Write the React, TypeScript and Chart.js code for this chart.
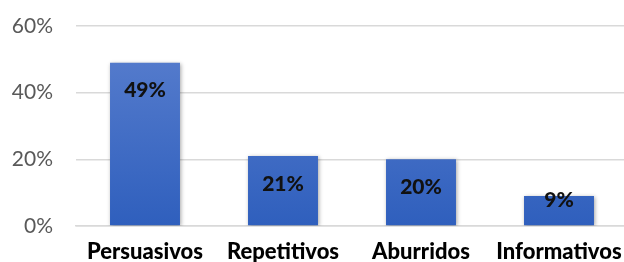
import React, { useEffect, useRef } from "react";
import { Chart, registerables } from "chart.js";

Chart.register(...registerables);

const categories = ["Persuasivos", "Repetitivos", "Aburridos", "Informativos"];
const values = [49, 21, 20, 9];
const valueLabels = ["49%", "21%", "20%", "9%"];
const yTicks = [0, 20, 40, 60];

const labelPlugin = {
  id: "barLabels",
  afterDatasetsDraw(chart: any) {
    const ctx = chart.ctx;
    const meta = chart.getDatasetMeta(0);
    ctx.save();
    ctx.font = "900 21px Lato";
    ctx.fillStyle = "#111111";
    ctx.textAlign = "center";
    ctx.textBaseline = "middle";
    meta.data.forEach((bar: any, i: number) => {
      const h = bar.base - bar.y;
      const y = h >= 56 ? bar.y + 28 : bar.y + 4;
      ctx.fillText(valueLabels[i], bar.x, y);
    });
    ctx.restore();
  },
};

const shadowPlugin = {
  id: "barShadow",
  beforeDatasetsDraw(chart: any) {
    const ctx = chart.ctx;
    ctx.save();
    ctx.shadowColor = "rgba(0,0,0,0.35)";
    ctx.shadowBlur = 4;
    ctx.shadowOffsetX = 1;
    ctx.shadowOffsetY = 1;
  },
  afterDatasetsDraw(chart: any) {
    chart.ctx.restore();
  },
};

const PLOT_TOP = 26;
const PLOT_RIGHT = 628;
const fixAreaPlugin = {
  id: "fixArea",
  afterLayout(chart: any) {
    const y = chart.scales.y;
    const bottom = y.bottom;
    y.top = PLOT_TOP;
    y.height = bottom - PLOT_TOP;
    y.configure();
    const x = chart.scales.x;
    x.right = PLOT_RIGHT;
    x.width = PLOT_RIGHT - x.left;
    x.configure();
    chart.chartArea.top = PLOT_TOP;
    chart.chartArea.height = chart.chartArea.bottom - PLOT_TOP;
    chart.chartArea.right = PLOT_RIGHT;
    chart.chartArea.width = PLOT_RIGHT - chart.chartArea.left;
  },
};

export default function App() {
  const ref = useRef<HTMLCanvasElement>(null);
  useEffect(() => {
    document.body.style.margin = "0";
    const canvas = ref.current!;
    const ctx = canvas.getContext("2d")!;
    const grad = ctx.createLinearGradient(0, 26, 0, 226);
    grad.addColorStop(0, "#5b80cf");
    grad.addColorStop(1, "#2f5fbd");
    const chart = new Chart(canvas, {
      type: "bar",
      data: {
        labels: categories,
        datasets: [
          {
            data: values,
            backgroundColor: grad,
            barPercentage: 0.507,
            categoryPercentage: 1,
          },
        ],
      },
      options: {
        animation: false,
        responsive: false,
        maintainAspectRatio: false,
        layout: { padding: { top: 17, right: 0, bottom: 0, left: 0 } },
        plugins: { legend: { display: false }, tooltip: { enabled: false } },
        scales: {
          x: {
            grid: { display: false },
            border: { display: true, color: "#d9d9d9", width: 1.5 },
            ticks: {
              color: "#000000",
              font: { family: "Lato", size: 22, weight: "900" },
              padding: 5,
              maxRotation: 0,
              autoSkip: false,
            },
            afterFit(scale: any) {
              scale.height = 36;
            },
          },
          y: {
            min: 0,
            max: 60,
            afterBuildTicks(scale: any) {
              scale.ticks = yTicks.map((v) => ({ value: v }));
            },
            grid: { color: "#d9d9d9", lineWidth: 1.5, drawTicks: false },
            border: { display: false },
            ticks: {
              color: "#595959",
              font: { family: "Lato", size: 21 },
              padding: 23,
              callback: (v: any) => v + "%",
            },
            afterFit(scale: any) {
              scale.width = 76;
            },
          },
        },
      },
      plugins: [fixAreaPlugin, shadowPlugin, labelPlugin],
    });
    return () => chart.destroy();
  }, []);
  return (
    <div style={{ position: "absolute", left: 0, top: 0, width: 624, height: 262 }}>
      <canvas ref={ref} width={624} height={262} style={{ display: "block" }} />
    </div>
  );
}
